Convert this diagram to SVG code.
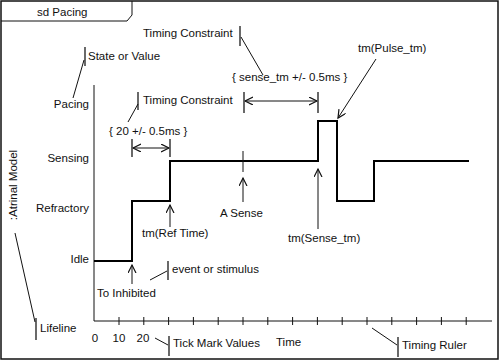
<svg xmlns="http://www.w3.org/2000/svg" width="500" height="361" viewBox="0 0 500 361">
  <defs>
    <marker id="ah" markerUnits="userSpaceOnUse" markerWidth="10" markerHeight="10" refX="8" refY="4" orient="auto-start-reverse">
      <path d="M0,0 L8,4 L0,8" fill="none" stroke="#111" stroke-width="1.2"/>
    </marker>
    <style>
      text { font-family: "Liberation Sans", Arial, sans-serif; font-size: 11.5px; fill: #111; }
      .frame { fill: #fff; stroke: #111; stroke-width: 1.5; }
      .thin { fill: none; stroke: #111; stroke-width: 1; }
      .bar { fill: none; stroke: #444; stroke-width: 1.6; }
      .wave { fill: none; stroke: #000; stroke-width: 2; }
      .arr { fill: none; stroke: #111; stroke-width: 1; marker-end: url(#ah); }
      .darr { fill: none; stroke: #111; stroke-width: 1; marker-start: url(#ah); marker-end: url(#ah); }
    </style>
  </defs>

  <g id="frame">
    <rect class="frame" x="1" y="1" width="497" height="358"/>
    <path class="thin" d="M1,21 L127,21 L132,15 L132,1" stroke-width="1.2"/>
    <text x="37" y="16">sd Pacing</text>
  </g>

  <g id="lifeline-name">
    <text x="17" y="185" text-anchor="middle" transform="rotate(-90 17 185)">:Atrinal Model</text>
  </g>

  <g id="states">
    <text x="89" y="108" text-anchor="end">Pacing</text>
    <text x="89" y="162" text-anchor="end">Sensing</text>
    <text x="89" y="212" text-anchor="end">Refractory</text>
    <text x="89" y="263" text-anchor="end">Idle</text>
  </g>

  <g id="axes">
    <path class="thin" d="M94,85 L94,321 L492,321"/>
    <path class="thin" d="M119,317V325 M143.8,317V325 M168.6,317V325 M193.4,317V325 M218.2,317V325 M243,317V325 M267.8,317V325 M292.6,317V325 M317.4,317V325 M342.2,317V325 M367,317V325 M391.8,317V325 M416.6,317V325 M441.4,317V325 M466.2,317V325"/>
    <text x="95" y="342" text-anchor="middle">0</text>
    <text x="119" y="342" text-anchor="middle">10</text>
    <text x="143" y="342" text-anchor="middle">20</text>
    <text x="276" y="346">Time</text>
  </g>

  <g id="waveform">
    <path class="wave" d="M94,261 H132 V201 H170 V161 H318 V121 H337 V201 H374 V161 H469"/>
    <path class="thin" d="M243,151 V172" stroke-width="1.2"/>
  </g>

  <g id="connectors">
    <!-- event arrows -->
    <path class="arr" d="M132,284 V265"/>
    <path class="arr" d="M170,227 V205"/>
    <path class="arr" d="M243,202 V178"/>
    <path class="arr" d="M318,229 V169"/>
    <path class="arr" d="M376,59 L338,118"/>
    <!-- duration constraints -->
    <path class="darr" d="M133,148 H169"/>
    <path class="bar" d="M132,139 V157 M170,139 V157"/>
    <path class="darr" d="M245,101 H317"/>
    <path class="bar" d="M244,92 V113 M318,92 V113"/>
    <!-- callout leaders -->
    <path class="bar" d="M240,26 V46"/>
    <path class="thin" d="M241,37 L263,75"/>
    <path class="bar" d="M138,92 V110"/>
    <path class="thin" d="M138,104 L128,122"/>
    <path class="bar" d="M85,47 V66"/>
    <path class="thin" d="M84,60 L73,98"/>
    <path class="bar" d="M168,261 V280"/>
    <path class="thin" d="M150,280 L167,271"/>
    <path class="bar" d="M36,318 V340"/>
    <path class="thin" d="M15,233 L35,322"/>
    <path class="bar" d="M169,336 V356"/>
    <path class="thin" d="M155,338 L168,345"/>
    <path class="bar" d="M398,337 V357"/>
    <path class="thin" d="M372,328 L397,345"/>
  </g>

  <g id="labels">
    <text x="143" y="37">Timing Constraint</text>
    <text x="143" y="104">Timing Constraint</text>
    <text x="232" y="81">{ sense_tm +/- 0.5ms }</text>
    <text x="109" y="135">{ 20 +/- 0.5ms }</text>
    <text x="358" y="52">tm(Pulse_tm)</text>
    <text x="88" y="60">State or Value</text>
    <text x="142" y="237">tm(Ref Time)</text>
    <text x="220" y="217">A Sense</text>
    <text x="288" y="242">tm(Sense_tm)</text>
    <text x="172" y="273">event or stimulus</text>
    <text x="97" y="297">To Inhibited</text>
    <text x="40" y="332">Lifeline</text>
    <text x="173" y="347">Tick Mark Values</text>
    <text x="402" y="349">Timing Ruler</text>
  </g>
</svg>
